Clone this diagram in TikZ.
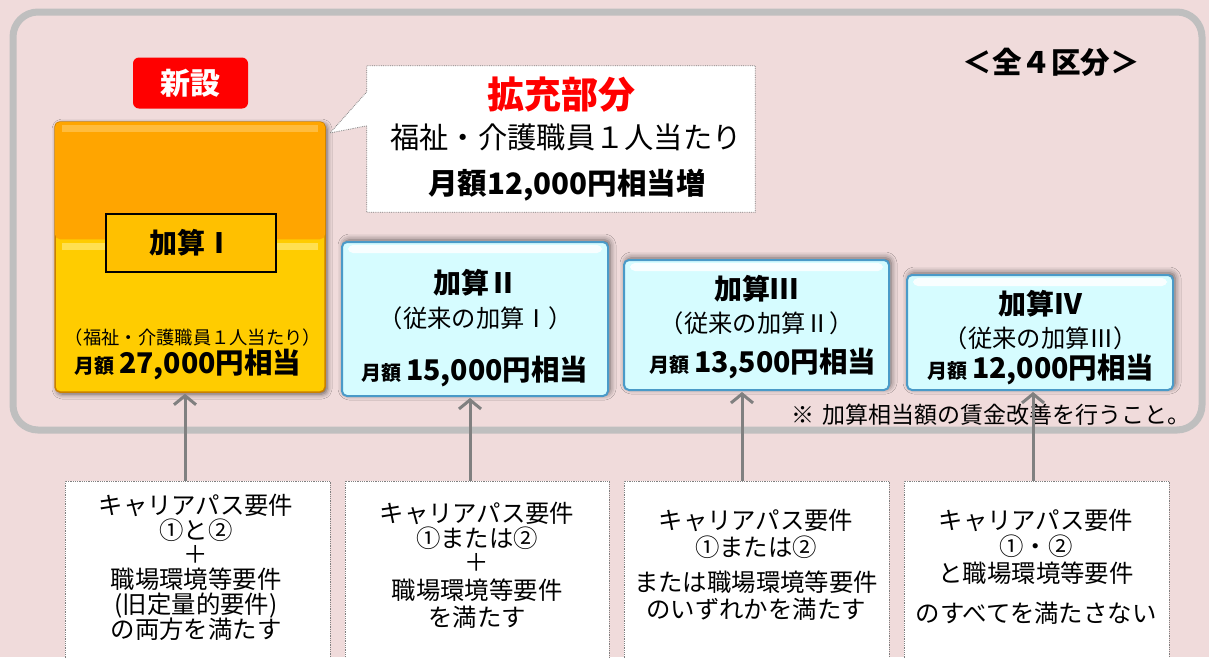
\documentclass[tikz,border=0pt]{standalone}
\usepackage{fontspec}
\setmainfont{Noto Sans CJK JP}
\usetikzlibrary{shadows.blur,arrows.meta,calc}
\definecolor{bg}{HTML}{F0DBDB}
\definecolor{framegray}{HTML}{BFBFBF}
\definecolor{orangetop}{HTML}{FFA500}
\definecolor{orangehi}{HTML}{FFC24D}
\definecolor{goldlow}{HTML}{FFCC00}
\definecolor{goldhi}{HTML}{FFE566}
\definecolor{goldedge}{HTML}{C98000}
\definecolor{labelgold}{HTML}{FFC000}
\definecolor{cyanfill}{HTML}{D6FCFF}
\definecolor{cyanedge}{HTML}{4A9AC8}
\definecolor{arrowgray}{HTML}{808080}
\definecolor{dotgray}{HTML}{808080}
\definecolor{badgered}{HTML}{FF0000}
\newcommand\fsz[2]{\fontsize{#1}{#2}\selectfont}
\begin{document}
\begin{tikzpicture}[x=1pt,y=-1pt,
  frame/.style={draw=framegray, line width=7pt, rounded corners=25pt, inner sep=0pt},
  badge/.style={fill=badgered, rounded corners=6pt, text=white, font=\fsz{30}{32}\bfseries, inner sep=0pt},
  goldbox/.style={fill=goldlow, draw=goldedge, line width=1.5pt, rounded corners=5pt, inner sep=0pt,
    blur shadow={shadow xshift=2pt, shadow yshift=-2pt, shadow blur radius=5pt, shadow opacity=60}},
  labelbox/.style={fill=labelgold, draw=black, line width=1.5pt, inner sep=0pt, font=\fsz{28}{30}\bfseries},
  cyanbox/.style={draw=cyanedge, line width=2pt, fill=cyanfill, rounded corners=5pt, inner sep=0pt,
    blur shadow={shadow xshift=2pt, shadow yshift=2pt, shadow blur radius=6pt, shadow opacity=60},
    path picture={\fill[white,opacity=.85] ([xshift=6pt,yshift=-3pt]path picture bounding box.north west) rectangle ([xshift=-6pt,yshift=-11pt]path picture bounding box.north east);}},
  callout/.style={inner sep=0pt},
  reqbox/.style={fill=white, draw=dotgray, densely dotted, line width=0.8pt, inner sep=0pt},
  txt/.style={inner sep=0pt, align=center},
  arr/.style={draw=arrowgray, line width=3pt, -{Straight Barb[length=9pt,width=22pt]}, shorten >=1pt}
]
\useasboundingbox[fill=bg] (0,0) rectangle (1209,657);

% outer frame
\node[frame, minimum width=1189pt, minimum height=418pt] (frame) at (607.5,221) {};

% title
\node[txt, font=\fsz{29.5}{31}\bfseries] (title) at (1051,62) {＜全４区分＞};

% badge
\node[badge, minimum width=115pt, minimum height=51pt] (badge) at (190.5,83) {新設};

% Kasan I (gold/orange)
\node[goldbox, minimum width=270pt, minimum height=270pt] (k1) at (190,257) {};
\fill[orangetop, rounded corners=5pt] ([shift={(0.75,0.75)}]k1.north west) rectangle ($(k1.north east)+(-0.75,118)$);
\fill[orangehi, opacity=.8] ($(k1.north west)+(8,4)$) rectangle ($(k1.north east)+(-8,11)$);
\fill[goldhi, opacity=.8] ($(k1.north west)+(8,122)$) rectangle ($(k1.north east)+(-8,129)$);
\node[labelbox, minimum width=170pt, minimum height=58pt] (l1) at (191,243) {加算Ⅰ};
\node[txt, font=\fsz{18.3}{20}] (k1a) at (193,338) {（福祉・介護職員１人当たり）};
\node[txt, font=\bfseries] (k1b) at (188,365) {\fsz{20}{22}月額 \fsz{28.5}{30}27,000円相当};

% callout
\node[callout, minimum width=388pt, minimum height=146pt] (co) at (561,139) {};
\draw[fill=white, draw=dotgray, densely dotted, line width=0.8pt]
  (co.north west) -- (co.north east) -- (co.south east) -- (co.south west)
  -- ($(co.north west)+(0,60)$) -- (330,133) -- ($(co.north west)+(0,26)$) -- cycle;
\node[txt, font=\fsz{37}{39}\bfseries, text=badgered] (co1) at (561,95) {拡充部分};
\node[txt, font=\fsz{29.3}{31}] (co2) at (566,137) {福祉・介護職員１人当たり};
\node[txt, font=\fsz{29.5}{31}\bfseries] (co3) at (567,185) {月額12,000円相当増};

% Kasan II
\node[cyanbox, minimum width=266pt, minimum height=154pt] (k2) at (475,319) {};
\node[txt, font=\fsz{28}{30}\bfseries] (k2a) at (475,283) {加算Ⅱ};
\node[txt, font=\fsz{24.3}{26}] (k2b) at (476,318) {（従来の加算Ⅰ）};
\node[txt, font=\bfseries] (k2c) at (475,372) {\fsz{20}{22}月額 \fsz{28.5}{30}15,000円相当};

% Kasan III
\node[cyanbox, minimum width=265pt, minimum height=130pt] (k3) at (756.5,325) {};
\node[txt, font=\fsz{28}{30}\bfseries] (k3a) at (756,289) {加算Ⅲ};
\node[txt, font=\fsz{24.3}{26}] (k3b) at (757,323) {（従来の加算Ⅱ）};
\node[txt, font=\bfseries] (k3c) at (763,364) {\fsz{20}{22}月額 \fsz{28.5}{30}13,500円相当};

% Kasan IV
\node[cyanbox, minimum width=266pt, minimum height=115pt] (k4) at (1040,332.5) {};
\node[txt, font=\fsz{28}{30}\bfseries] (k4a) at (1040,304) {加算Ⅳ};
\node[txt, font=\fsz{24.3}{26}] (k4b) at (1041,338) {（従来の加算Ⅲ）};
\node[txt, font=\bfseries] (k4c) at (1041,370) {\fsz{20}{22}月額 \fsz{28.5}{30}12,000円相当};

% note
\node[txt, font=\fsz{23}{25}, anchor=east] (note) at (1191,415) {※\hspace{8pt}加算相当額の賃金改善を行うこと。};

% requirement boxes
\node[reqbox, minimum width=265pt, minimum height=199pt] (b1) at (197.5,580.5) {};
\node[reqbox, minimum width=264pt, minimum height=199pt] (b2) at (477,580.5) {};
\node[reqbox, minimum width=265pt, minimum height=199pt] (b3) at (756.5,580.5) {};
\node[reqbox, minimum width=265pt, minimum height=199pt] (b4) at (1036.5,580.5) {};

\node[txt, font=\fsz{24.4}{24.6}, anchor=north] (t1) at (196,494) {キャリアパス要件\\①と②\\＋\\職場環境等要件\\(旧定量的要件)\\[-1pt]の両方を満たす};
\node[txt, font=\fsz{24.4}{25}, anchor=north] (t2) at (477,502) {キャリアパス要件\\①または②\\[-1pt]＋\\[3pt]職場環境等要件\\[2pt]を満たす};
\node[txt, font=\fsz{24.4}{26.5}, anchor=north] (t3) at (756,509) {キャリアパス要件\\①または②\\[9pt]または職場環境等要件\\のいずれかを満たす};
\node[txt, font=\fsz{24.4}{26}, anchor=north] (t4) at (1036,509) {キャリアパス要件\\①・②\\[1pt]と職場環境等要件\\[14pt]のすべてを満たさない};

% arrows
\draw[arr] ([xshift=-12.5pt]b1.north) -- ([xshift=-5pt]k1.south);
\draw[arr] ([xshift=-7pt]b2.north) -- ([xshift=-5pt]k2.south);
\draw[arr] ([xshift=-14.5pt]b3.north) -- ([xshift=-14.5pt]k3.south);
\draw[arr] ([xshift=-3.5pt]b4.north) -- ([xshift=-7pt]k4.south);
\end{tikzpicture}
\end{document}
